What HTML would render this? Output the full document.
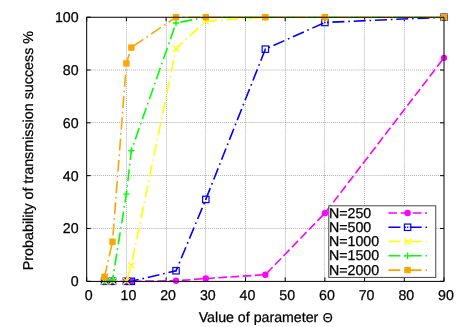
<!DOCTYPE html>
<html><head><meta charset="utf-8"><title>plot</title>
<style>
html,body{margin:0;padding:0;background:#fff;}
svg{display:block;}
text{font-family:"Liberation Sans",sans-serif;font-size:14.2px;fill:#000;text-rendering:geometricPrecision;stroke:#000;stroke-width:0.25px;}
</style></head><body>
<svg width="465" height="327" viewBox="0 0 465 327" style="will-change:transform;opacity:0.999">
<rect width="465" height="327" fill="#fff"/>
<path d="M126.50 17.2V281.3M166.50 17.2V281.3M205.50 17.2V281.3M245.50 17.2V281.3M285.50 17.2V281.3M324.50 17.2V281.3M364.50 17.2V281.3M404.50 17.2V281.3M86.7 228.50H444.0M86.7 175.50H444.0M86.7 122.50H444.0M86.7 70.00H444.0" stroke="#000" stroke-width="0.32" stroke-dasharray="1 1.02" fill="none"/>
<path d="M86.70 281.3v-4M86.70 17.2v4M126.40 281.3v-4M126.40 17.2v4M166.10 281.3v-4M166.10 17.2v4M205.80 281.3v-4M205.80 17.2v4M245.50 281.3v-4M245.50 17.2v4M285.20 281.3v-4M285.20 17.2v4M324.90 281.3v-4M324.90 17.2v4M364.60 281.3v-4M364.60 17.2v4M404.30 281.3v-4M404.30 17.2v4M444.00 281.3v-4M444.00 17.2v4M86.7 281.30h4M444.0 281.30h-4M86.7 228.48h4M444.0 228.48h-4M86.7 175.66h4M444.0 175.66h-4M86.7 122.84h4M444.0 122.84h-4M86.7 70.02h4M444.0 70.02h-4M86.7 17.20h4M444.0 17.20h-4" stroke="#000" stroke-width="1" fill="none"/>
<polyline points="104.56,281.30 112.51,281.30 126.40,281.30 131.36,281.30 176.03,280.77 205.80,278.53 265.35,274.70 324.90,213.16 444.00,57.87" fill="none" stroke="#fff" stroke-width="1.6" stroke-dasharray="8.8 3.4" stroke-dashoffset="8.17"/>
<polyline points="104.56,281.30 112.51,281.30 126.40,281.30 131.36,281.30 176.03,280.77 205.80,278.53 265.35,274.70 324.90,213.16 444.00,57.87" fill="none" stroke="#fff" stroke-width="1.6" stroke-dasharray="8.8 3.4" stroke-dashoffset="8.17"/>
<polyline points="104.56,281.30 112.51,281.30 126.40,281.30 131.36,281.30 176.03,280.77 205.80,278.53 265.35,274.70 324.90,213.16 444.00,57.87" fill="none" stroke="#ff00ff" stroke-width="1.6" stroke-dasharray="8.8 3.4" stroke-dashoffset="8.17"/>
<circle cx="104.56" cy="281.30" r="3.2" fill="#ff00ff"/>
<circle cx="112.51" cy="281.30" r="3.2" fill="#ff00ff"/>
<circle cx="126.40" cy="281.30" r="3.2" fill="#ff00ff"/>
<circle cx="131.36" cy="281.30" r="3.2" fill="#ff00ff"/>
<circle cx="176.03" cy="280.77" r="3.2" fill="#ff00ff"/>
<circle cx="205.80" cy="278.53" r="3.2" fill="#ff00ff"/>
<circle cx="265.35" cy="274.70" r="3.2" fill="#ff00ff"/>
<circle cx="324.90" cy="213.16" r="3.2" fill="#ff00ff"/>
<circle cx="444.00" cy="57.87" r="3.2" fill="#ff00ff"/>
<polyline points="104.56,281.30 112.51,281.30 126.40,281.30 131.36,281.30 176.03,270.74 205.80,199.43 265.35,49.16 324.90,22.48 444.00,17.20" fill="none" stroke="#fff" stroke-width="1.6" stroke-dasharray="12.0 3.8 1.7 3.8" stroke-dashoffset="20.29"/>
<polyline points="104.56,281.30 112.51,281.30 126.40,281.30 131.36,281.30 176.03,270.74 205.80,199.43 265.35,49.16 324.90,22.48 444.00,17.20" fill="none" stroke="#fff" stroke-width="1.6" stroke-dasharray="12.0 3.8 1.7 3.8" stroke-dashoffset="20.29"/>
<polyline points="104.56,281.30 112.51,281.30 126.40,281.30 131.36,281.30 176.03,270.74 205.80,199.43 265.35,49.16 324.90,22.48 444.00,17.20" fill="none" stroke="#0000ff" stroke-width="1.6" stroke-dasharray="12.0 3.8 1.7 3.8" stroke-dashoffset="20.29"/>
<rect x="101.36" y="278.10" width="6.4" height="6.4" fill="none" stroke="#0000ff" stroke-width="1.2"/><rect x="103.86" y="280.60" width="1.4" height="1.4" fill="#0000ff"/>
<rect x="109.31" y="278.10" width="6.4" height="6.4" fill="none" stroke="#0000ff" stroke-width="1.2"/><rect x="111.81" y="280.60" width="1.4" height="1.4" fill="#0000ff"/>
<rect x="123.20" y="278.10" width="6.4" height="6.4" fill="none" stroke="#0000ff" stroke-width="1.2"/><rect x="125.70" y="280.60" width="1.4" height="1.4" fill="#0000ff"/>
<rect x="128.16" y="278.10" width="6.4" height="6.4" fill="none" stroke="#0000ff" stroke-width="1.2"/><rect x="130.66" y="280.60" width="1.4" height="1.4" fill="#0000ff"/>
<rect x="172.83" y="267.54" width="6.4" height="6.4" fill="none" stroke="#0000ff" stroke-width="1.2"/><rect x="175.33" y="270.04" width="1.4" height="1.4" fill="#0000ff"/>
<rect x="202.60" y="196.23" width="6.4" height="6.4" fill="none" stroke="#0000ff" stroke-width="1.2"/><rect x="205.10" y="198.73" width="1.4" height="1.4" fill="#0000ff"/>
<rect x="262.15" y="45.96" width="6.4" height="6.4" fill="none" stroke="#0000ff" stroke-width="1.2"/><rect x="264.65" y="48.46" width="1.4" height="1.4" fill="#0000ff"/>
<rect x="321.70" y="19.28" width="6.4" height="6.4" fill="none" stroke="#0000ff" stroke-width="1.2"/><rect x="324.20" y="21.78" width="1.4" height="1.4" fill="#0000ff"/>
<rect x="440.80" y="14.00" width="6.4" height="6.4" fill="none" stroke="#0000ff" stroke-width="1.2"/><rect x="443.30" y="16.50" width="1.4" height="1.4" fill="#0000ff"/>
<polyline points="104.56,281.30 112.51,281.30 126.40,281.30 131.36,265.45 176.03,48.63 205.80,21.16 265.35,17.20 324.90,17.20 444.00,17.20" fill="none" stroke="#fff" stroke-width="1.6" stroke-dasharray="12.0 3.8 1.7 3.8" stroke-dashoffset="19.86"/>
<polyline points="104.56,281.30 112.51,281.30 126.40,281.30 131.36,265.45 176.03,48.63 205.80,21.16 265.35,17.20 324.90,17.20 444.00,17.20" fill="none" stroke="#fff" stroke-width="1.6" stroke-dasharray="12.0 3.8 1.7 3.8" stroke-dashoffset="19.86"/>
<polyline points="104.56,281.30 112.51,281.30 126.40,281.30 131.36,265.45 176.03,48.63 205.80,21.16 265.35,17.20 324.90,17.20 444.00,17.20" fill="none" stroke="#ffff00" stroke-width="1.6" stroke-dasharray="12.0 3.8 1.7 3.8" stroke-dashoffset="19.86"/>
<path d="M101.36 278.10L107.77 284.50M101.36 284.50L107.77 278.10" stroke="#ffff00" stroke-width="1.3" fill="none"/>
<path d="M109.31 278.10L115.71 284.50M109.31 284.50L115.71 278.10" stroke="#ffff00" stroke-width="1.3" fill="none"/>
<path d="M123.20 278.10L129.60 284.50M123.20 284.50L129.60 278.10" stroke="#ffff00" stroke-width="1.3" fill="none"/>
<path d="M128.16 262.25L134.56 268.65M128.16 268.65L134.56 262.25" stroke="#ffff00" stroke-width="1.3" fill="none"/>
<path d="M172.83 45.43L179.22 51.83M172.83 51.83L179.22 45.43" stroke="#ffff00" stroke-width="1.3" fill="none"/>
<path d="M202.60 17.96L209.00 24.36M202.60 24.36L209.00 17.96" stroke="#ffff00" stroke-width="1.3" fill="none"/>
<path d="M262.15 14.00L268.55 20.40M262.15 20.40L268.55 14.00" stroke="#ffff00" stroke-width="1.3" fill="none"/>
<path d="M321.70 14.00L328.10 20.40M321.70 20.40L328.10 14.00" stroke="#ffff00" stroke-width="1.3" fill="none"/>
<path d="M440.80 14.00L447.20 20.40M440.80 20.40L447.20 14.00" stroke="#ffff00" stroke-width="1.3" fill="none"/>
<polyline points="104.56,281.30 112.51,279.98 126.40,194.15 131.36,150.57 176.03,23.01 205.80,17.20 265.35,17.20 324.90,17.20 444.00,17.20" fill="none" stroke="#fff" stroke-width="1.6" stroke-dasharray="12.0 3.8 1.7 3.8" stroke-dashoffset="19.74"/>
<polyline points="104.56,281.30 112.51,279.98 126.40,194.15 131.36,150.57 176.03,23.01 205.80,17.20 265.35,17.20 324.90,17.20 444.00,17.20" fill="none" stroke="#fff" stroke-width="1.6" stroke-dasharray="12.0 3.8 1.7 3.8" stroke-dashoffset="19.74"/>
<polyline points="104.56,281.30 112.51,279.98 126.40,194.15 131.36,150.57 176.03,23.01 205.80,17.20 265.35,17.20 324.90,17.20 444.00,17.20" fill="none" stroke="#00ff00" stroke-width="1.6" stroke-dasharray="12.0 3.8 1.7 3.8" stroke-dashoffset="19.74"/>
<path d="M101.36 281.30L107.77 281.30M104.56 278.10L104.56 284.50" stroke="#00ff00" stroke-width="1.3" fill="none"/>
<path d="M109.31 279.98L115.71 279.98M112.51 276.78L112.51 283.18" stroke="#00ff00" stroke-width="1.3" fill="none"/>
<path d="M123.20 194.15L129.60 194.15M126.40 190.95L126.40 197.35" stroke="#00ff00" stroke-width="1.3" fill="none"/>
<path d="M128.16 150.57L134.56 150.57M131.36 147.37L131.36 153.77" stroke="#00ff00" stroke-width="1.3" fill="none"/>
<path d="M172.83 23.01L179.22 23.01M176.03 19.81L176.03 26.21" stroke="#00ff00" stroke-width="1.3" fill="none"/>
<path d="M202.60 17.20L209.00 17.20M205.80 14.00L205.80 20.40" stroke="#00ff00" stroke-width="1.3" fill="none"/>
<path d="M262.15 17.20L268.55 17.20M265.35 14.00L265.35 20.40" stroke="#00ff00" stroke-width="1.3" fill="none"/>
<path d="M321.70 17.20L328.10 17.20M324.90 14.00L324.90 20.40" stroke="#00ff00" stroke-width="1.3" fill="none"/>
<path d="M440.80 17.20L447.20 17.20M444.00 14.00L444.00 20.40" stroke="#00ff00" stroke-width="1.3" fill="none"/>
<polyline points="104.56,276.81 112.51,241.69 126.40,63.42 131.36,47.57 176.03,17.20 205.80,17.20 265.35,17.20 324.90,17.20 444.00,17.20" fill="none" stroke="#fff" stroke-width="1.6" stroke-dasharray="12.0 3.8 1.7 3.8" stroke-dashoffset="0.38"/>
<polyline points="104.56,276.81 112.51,241.69 126.40,63.42 131.36,47.57 176.03,17.20 205.80,17.20 265.35,17.20 324.90,17.20 444.00,17.20" fill="none" stroke="#fff" stroke-width="1.6" stroke-dasharray="12.0 3.8 1.7 3.8" stroke-dashoffset="0.38"/>
<polyline points="104.56,276.81 112.51,241.69 126.40,63.42 131.36,47.57 176.03,17.20 205.80,17.20 265.35,17.20 324.90,17.20 444.00,17.20" fill="none" stroke="#ffa500" stroke-width="1.6" stroke-dasharray="12.0 3.8 1.7 3.8" stroke-dashoffset="0.38"/>
<rect x="101.36" y="273.61" width="6.4" height="6.4" fill="#ffa500"/>
<rect x="109.31" y="238.49" width="6.4" height="6.4" fill="#ffa500"/>
<rect x="123.20" y="60.22" width="6.4" height="6.4" fill="#ffa500"/>
<rect x="128.16" y="44.37" width="6.4" height="6.4" fill="#ffa500"/>
<rect x="172.83" y="14.00" width="6.4" height="6.4" fill="#ffa500"/>
<rect x="202.60" y="14.00" width="6.4" height="6.4" fill="#ffa500"/>
<rect x="262.15" y="14.00" width="6.4" height="6.4" fill="#ffa500"/>
<rect x="321.70" y="14.00" width="6.4" height="6.4" fill="#ffa500"/>
<rect x="440.80" y="14.00" width="6.4" height="6.4" fill="#ffa500"/>
<path d="M86.7 17.25V281.4H444.0V17.25Z" stroke="#000" stroke-width="1" fill="none"/>
<text x="78.6" y="286.20" text-anchor="end">0</text>
<text x="78.6" y="233.38" text-anchor="end">20</text>
<text x="78.6" y="180.56" text-anchor="end">40</text>
<text x="78.6" y="127.74" text-anchor="end">60</text>
<text x="78.6" y="74.92" text-anchor="end">80</text>
<text x="78.6" y="22.10" text-anchor="end">100</text>
<text x="88.70" y="300.25" text-anchor="middle">0</text>
<text x="128.40" y="300.25" text-anchor="middle">10</text>
<text x="168.10" y="300.25" text-anchor="middle">20</text>
<text x="207.80" y="300.25" text-anchor="middle">30</text>
<text x="247.50" y="300.25" text-anchor="middle">40</text>
<text x="287.20" y="300.25" text-anchor="middle">50</text>
<text x="326.90" y="300.25" text-anchor="middle">60</text>
<text x="366.60" y="300.25" text-anchor="middle">70</text>
<text x="406.30" y="300.25" text-anchor="middle">80</text>
<text x="446.00" y="300.25" text-anchor="middle">90</text>
<text x="198.7" y="321.8" style="font-size:14.2px">Value of parameter <tspan dx="0.4" style="font-size:12.8px">&#920;</tspan></text>
<text transform="translate(33.1,150.6) rotate(-90)" text-anchor="middle" style="font-size:14.3px">Probability of transmission success %</text>
<rect x="328.8" y="205.8" width="106.94999999999999" height="71.59999999999997" fill="#fff" stroke="#484848" stroke-width="1"/>
<text x="329.0" y="217.50">N=250</text>
<path d="M388.4 213.00H427" stroke="#ff00ff" stroke-width="1.6" stroke-dasharray="8.8 3.4" fill="none"/>
<circle cx="407.60" cy="213.00" r="3.2" fill="#ff00ff"/>
<text x="329.0" y="231.77">N=500</text>
<path d="M388.4 227.27H427" stroke="#0000ff" stroke-width="1.6" stroke-dasharray="12.0 3.8 1.7 3.8" fill="none"/>
<rect x="404.40" y="224.07" width="6.4" height="6.4" fill="none" stroke="#0000ff" stroke-width="1.2"/><rect x="406.90" y="226.57" width="1.4" height="1.4" fill="#0000ff"/>
<text x="329.0" y="246.04">N=1000</text>
<path d="M388.4 241.54H427" stroke="#ffff00" stroke-width="1.6" stroke-dasharray="12.0 3.8 1.7 3.8" fill="none"/>
<path d="M404.40 238.34L410.80 244.74M404.40 244.74L410.80 238.34" stroke="#ffff00" stroke-width="1.3" fill="none"/>
<text x="329.0" y="260.31">N=1500</text>
<path d="M388.4 255.81H427" stroke="#00ff00" stroke-width="1.6" stroke-dasharray="12.0 3.8 1.7 3.8" fill="none"/>
<path d="M404.40 255.81L410.80 255.81M407.60 252.61L407.60 259.01" stroke="#00ff00" stroke-width="1.3" fill="none"/>
<text x="329.0" y="274.58">N=2000</text>
<path d="M388.4 270.08H427" stroke="#ffa500" stroke-width="1.6" stroke-dasharray="12.0 3.8 1.7 3.8" fill="none"/>
<rect x="404.40" y="266.88" width="6.4" height="6.4" fill="#ffa500"/>
</svg></body></html>
